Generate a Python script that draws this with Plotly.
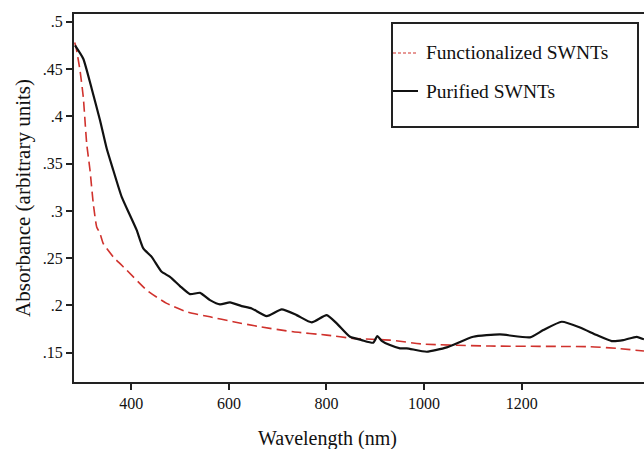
import plotly.graph_objects as go

# Purified SWNTs (solid black)
purified_nm = [284.6, 301.6, 318.9, 335.9, 349.6, 363.1, 380.3, 397.3, 411.1, 424.6,
               441.8, 462.3, 479.3, 499.8, 520.3, 540.8, 561.3, 581.8, 602.3, 626.2,
               646.7, 677.5, 708.2, 738.9, 769.7, 800.4, 820.9, 848.2, 872.1, 895.9,
               904.1, 913.1, 930.1, 950.6, 964.3, 1005.3, 1046.3, 1100.8, 1155.5, 1217.0,
               1244.3, 1282.0, 1319.5, 1353.7, 1384.4, 1408.2, 1435.7, 1450.6]
purified_abs = [0.475, 0.4609, 0.4292, 0.3958, 0.3659, 0.3430, 0.3148, 0.2954, 0.2796, 0.2603,
                0.2514, 0.2356, 0.2303, 0.2205, 0.2120, 0.2134, 0.2057, 0.2011, 0.2033, 0.1993,
                0.1969, 0.1888, 0.1959, 0.1898, 0.1821, 0.1898, 0.1811, 0.1669, 0.1634, 0.1606,
                0.1677, 0.1627, 0.1581, 0.1547, 0.1547, 0.1511, 0.1557, 0.1669, 0.1694, 0.1663,
                0.1740, 0.1828, 0.1768, 0.1687, 0.1624, 0.1634, 0.1669, 0.1642]

# Functionalized SWNTs (dashed red)
func_nm = [284.0, 286.7, 294.9, 301.6, 308.6, 315.4, 322.1, 329.1, 335.9, 342.6, 363.1,
           390.6, 431.6, 472.5, 513.5, 561.3, 609.0, 663.7, 732.0, 800.4, 854.9,
           930.1, 998.4, 1135.0, 1340.0, 1394.7, 1450.6]
func_abs = [0.478, 0.4732, 0.4486, 0.4204, 0.3712, 0.3430, 0.3078, 0.2831, 0.2761, 0.2655, 0.2514,
            0.2374, 0.2162, 0.2022, 0.1933, 0.1880, 0.1828, 0.1775, 0.1722, 0.1687, 0.1652,
            0.1634, 0.1592, 0.1571, 0.1564, 0.1547, 0.1518]

x_ticks = [400, 600, 800, 1000, 1200]
y_ticks = [0.15, 0.2, 0.25, 0.3, 0.35, 0.4, 0.45, 0.5]
y_ticktext = [".15", ".2", ".25", ".3", ".35", ".4", ".45", ".5"]

series_names = ["Functionalized SWNTs", "Purified SWNTs"]

FONT = "Liberation Serif"
W, H = 644, 449
L, R, T, B = 74, 0, 14, 67
PW, PH = W - L - R, H - T - B

def px(x):
    return (x - L) / PW

def py(y):
    return (H - B - y) / PH

fig = go.Figure()
fig.add_trace(go.Scatter(x=func_nm, y=func_abs, mode="lines", name=series_names[0],
                         line=dict(color="#d0322d", width=1.6, dash="10px,5px", shape="spline", smoothing=0.5),
                         showlegend=False))
fig.add_trace(go.Scatter(x=purified_nm, y=purified_abs, mode="lines", name=series_names[1],
                         line=dict(color="#111111", width=2.2, shape="spline", smoothing=0.5),
                         showlegend=False))

# manual legend box
lx0, lx1, ly0, ly1 = 392, 638, 23, 127
fig.add_shape(type="rect", xref="paper", yref="paper",
              x0=px(lx0), x1=px(lx1), y0=py(ly1), y1=py(ly0),
              line=dict(color="#222222", width=2), fillcolor="white", layer="above")
legend_rows = [(53, dict(color="#d0322d", width=1.2, dash="3px,2px")),
               (91, dict(color="#111111", width=2))]
for (yy, ln), name in zip(legend_rows, series_names):
    fig.add_shape(type="line", xref="paper", yref="paper",
                  x0=px(393), x1=px(418), y0=py(yy), y1=py(yy), line=ln, layer="above")
    fig.add_annotation(xref="paper", yref="paper", x=px(424), y=py(yy),
                       text=name, showarrow=False, xanchor="left", yanchor="middle",
                       font=dict(family=FONT, size=19.5, color="#111111"))

# x axis title placed like the reference
fig.add_annotation(xref="paper", yref="paper", x=px(327), y=py(438),
                   text="Wavelength (nm)", showarrow=False, xanchor="center", yanchor="middle",
                   font=dict(family=FONT, size=20, color="#111111"))

fig.update_layout(
    width=W, height=H,
    margin=dict(l=L, r=R, t=T, b=B, pad=0),
    paper_bgcolor="white", plot_bgcolor="white",
    font=dict(family=FONT, size=15, color="#111111"),
    xaxis=dict(range=[282.6, 282.6 + PW / 0.488], tickvals=x_ticks,
               ticks="outside", ticklen=6, tickwidth=1.5, tickcolor="#222222",
               showline=True, linecolor="#222222", linewidth=2, mirror=True,
               showgrid=False, zeroline=False,
               tickfont=dict(family=FONT, size=16, color="#111111")),
    yaxis=dict(range=[0.1191, 0.5082], tickvals=y_ticks, ticktext=y_ticktext,
               ticks="outside", ticklen=6, tickwidth=1.5, tickcolor="#222222",
               showline=True, linecolor="#222222", linewidth=2, mirror=False,
               showgrid=False, zeroline=False,
               title=dict(text="Absorbance (arbitrary units)", standoff=6,
                          font=dict(family=FONT, size=21, color="#111111")),
               tickfont=dict(family=FONT, size=16, color="#111111")),
    showlegend=False,
)

fig.write_html("out.html", config={"displayModeBar": False},
               post_script="document.body.style.margin='0';document.body.style.padding='0';document.body.style.overflow='hidden';")
